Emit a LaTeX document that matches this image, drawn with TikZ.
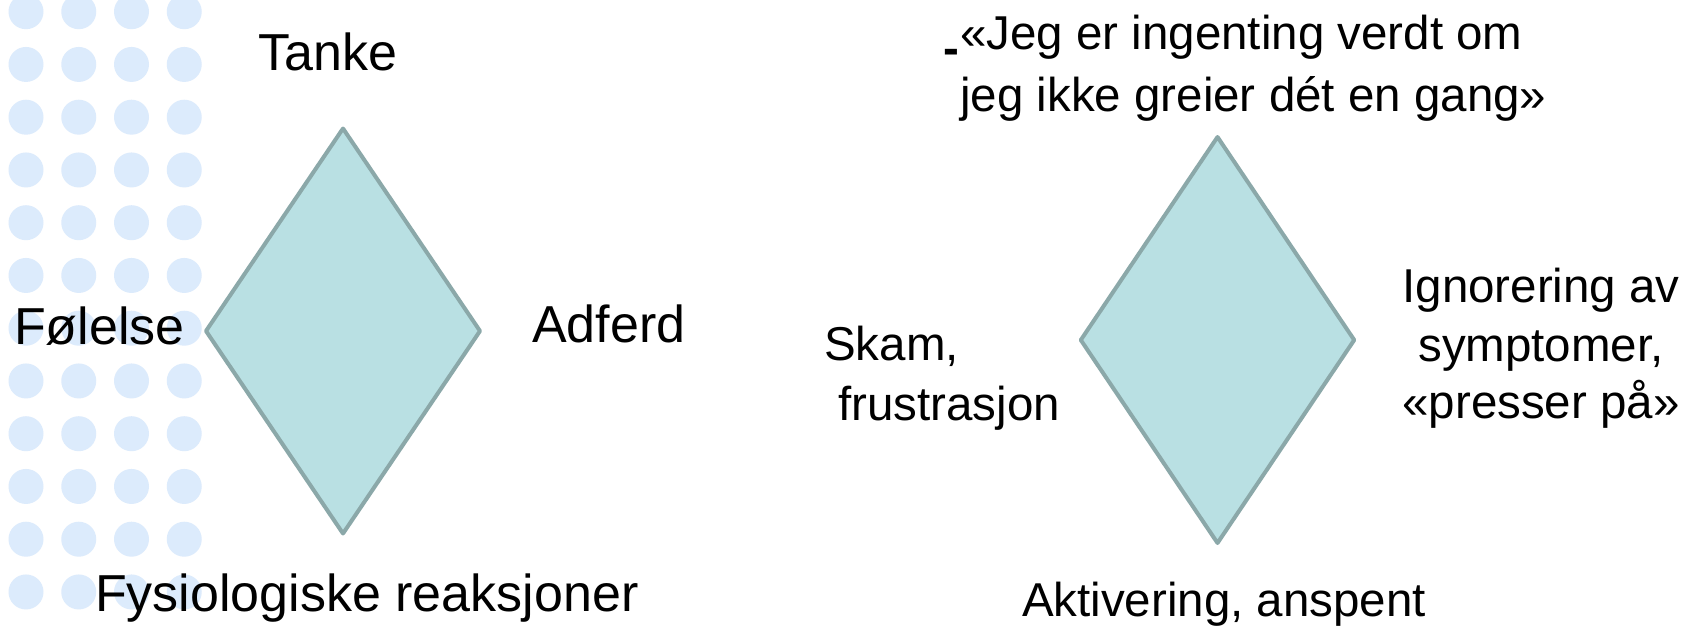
\documentclass[tikz,border=0pt]{standalone}
\usepackage{fontspec}
\setmainfont{Liberation Sans}
\definecolor{dotblue}{HTML}{DCEBFC}
\definecolor{diafill}{HTML}{B9E0E3}
\definecolor{diaedge}{HTML}{8BA8A9}
\begin{document}
\begin{tikzpicture}[x=1pt,y=-1pt,
  dot/.style={fill=dotblue, draw=none},
  dia/.style={fill=diafill, draw=diaedge, line width=4pt, line join=round},
  big/.style={inner sep=0pt, font=\fontsize{52}{62}\selectfont},
  med/.style={inner sep=0pt, font=\fontsize{47.5}{57}\selectfont}]
\useasboundingbox (0,0) rectangle (1688,626);
\fill[white] (0,0) rectangle (1688,626);
% background dots
\foreach \i in {0,...,3}{
  \foreach \j in {0,...,11}{
    \fill[dot] ({26+52.75*\i},{11.7+52.75*\j}) circle[radius=17.5pt];
  }
}
% left diamond
\coordinate (LT) at (343,128.5);
\coordinate (LR) at (480,331);
\coordinate (LB) at (343,533.5);
\coordinate (LL) at (206,331);
\draw[dia] (LT) -- (LR) -- (LB) -- (LL) -- cycle;
% right diamond
\coordinate (RT) at (1217.5,137);
\coordinate (RR) at (1354.2,340);
\coordinate (RB) at (1217.5,543);
\coordinate (RL) at (1080.8,340);
\draw[dia] (RT) -- (RR) -- (RB) -- (RL) -- cycle;
% left labels
\node[big, anchor=base] (tanke) at (328,70.5) {Tanke};
\node[big, anchor=base west] (folelse) at (14,344) {Følelse};
\node[big, anchor=base west] (adferd) at (532,342) {Adferd};
\node[big, anchor=base west] (fysio) at (95,611.5) {Fysiologiske reaksjoner};
% right labels
\node[med, anchor=base west, font=\fontsize{47.5}{57}\selectfont\bfseries] (dash) at (943,65) {-};
\node[med, anchor=base west] (thoughtA) at (960,49.5) {«Jeg er ingenting verdt om};
\node[med, anchor=base west] (thoughtB) at (960,111) {jeg ikke greier dét en gang»};
\node[med, anchor=base west] (skam) at (824,360.5) {Skam,};
\node[med, anchor=base west] (frust) at (838,420) {frustrasjon};
\node[med, anchor=base] (ignA) at (1541,302) {Ignorering av};
\node[med, anchor=base] (ignB) at (1541,361.5) {symptomer,};
\node[med, anchor=base] (ignC) at (1541,418) {«presser på»};
\node[med, anchor=base] (akt) at (1224,616.5) {Aktivering, anspent};
\end{tikzpicture}
\end{document}
